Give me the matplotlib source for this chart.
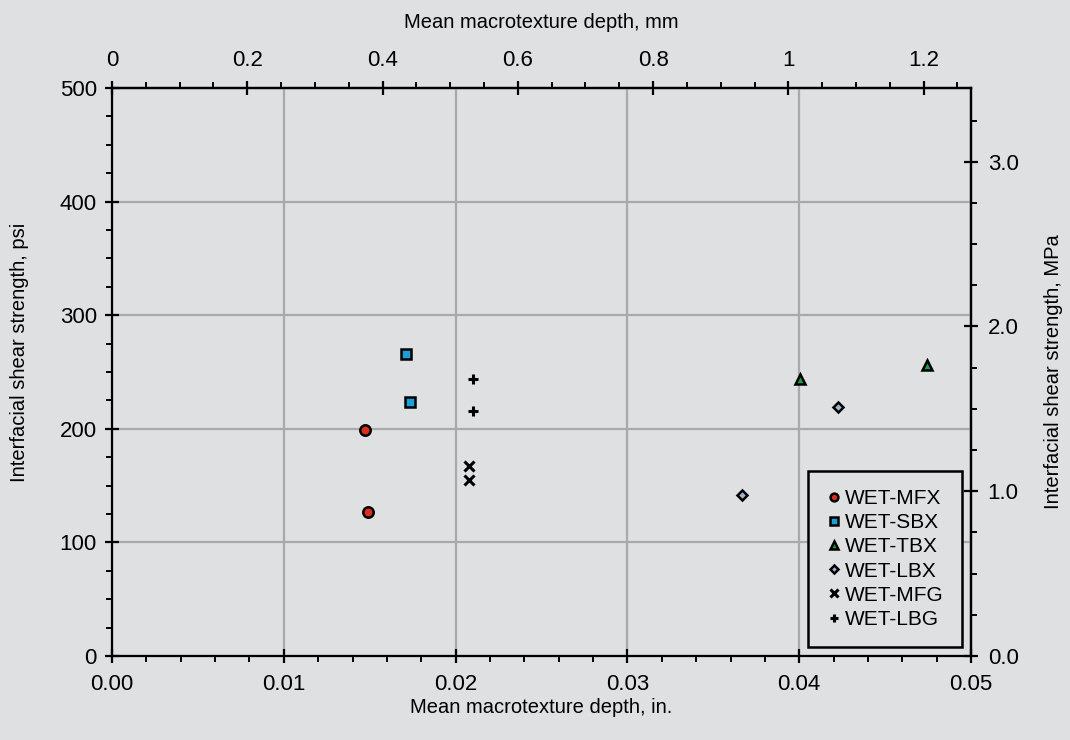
import matplotlib
matplotlib.use("Agg")
import matplotlib.pyplot as plt
from matplotlib.ticker import MultipleLocator, FormatStrFormatter, FuncFormatter

plt.rcParams['font.family'] = ['Liberation Sans', 'DejaVu Sans']

# Mean macrotexture depth (in.) and interfacial shear strength (psi) per mix
series = ["WET-MFX", "WET-SBX", "WET-TBX", "WET-LBX", "WET-MFG", "WET-LBG"]
mfx_depth = [0.01475, 0.01490]
mfx_shear = [199, 127]
sbx_depth = [0.01711, 0.01735]
sbx_shear = [266, 224]
tbx_depth = [0.04005, 0.04742]
tbx_shear = [244, 256]
lbx_depth = [0.03667, 0.04224]
lbx_shear = [142, 219]
mfg_depth = [0.02080, 0.02080]
mfg_shear = [167, 155]
lbg_depth = [0.02103, 0.02101]
lbg_shear = [244, 216]

IN_TO_MM = 25.4
PSI_TO_MPA = 0.00689476

bg = "#dfe0e2"
fig = plt.figure(figsize=(10.7, 7.4), dpi=100, facecolor=bg)
ax = fig.add_axes([0.1047, 0.1135, 0.8028, 0.7676], facecolor=bg)

ms = 7.5
mew = 1.8
ax.plot(mfx_depth, mfx_shear, 'o', ms=ms, mfc="#d9301e", mec="black", mew=mew, label=series[0], zorder=5)
ax.plot(sbx_depth, sbx_shear, 's', ms=ms, mfc="#1a9fd6", mec="black", mew=mew, label=series[1], zorder=5)
ax.plot(tbx_depth, tbx_shear, '^', ms=ms, mfc="#1f9a48", mec="black", mew=mew, label=series[2], zorder=5)
ax.plot(lbx_depth, lbx_shear, 'D', ms=5.5, mfc="#9fb3d3", mec="black", mew=mew, label=series[3], zorder=5)
ax.plot(mfg_depth, mfg_shear, 'x', ms=7, mec="black", mew=2.2, label=series[4], zorder=5)
ax.plot(lbg_depth, lbg_shear, '+', ms=7, mec="black", mew=2.2, label=series[5], zorder=5)

ax.set_xlim(0, 0.05)
ax.set_ylim(0, 500)
ax.xaxis.set_major_locator(MultipleLocator(0.01))
ax.xaxis.set_minor_locator(MultipleLocator(0.002))
ax.xaxis.set_major_formatter(FormatStrFormatter('%.2f'))
ax.yaxis.set_major_locator(MultipleLocator(100))
ax.yaxis.set_minor_locator(MultipleLocator(25))

ax.grid(True, which='major', color="#a9a9a9", lw=1.6, zorder=0)
ax.set_axisbelow(True)

for s in ax.spines.values():
    s.set_linewidth(1.6)
    s.set_color("black")

tick_font = 16
label_font = 14.5
tick_kw_major = dict(which='major', direction='inout', length=10, width=1.6, labelsize=tick_font, colors='black')
tick_kw_minor = dict(which='minor', direction='out', length=4, width=1.4)
ax.tick_params(axis='x', pad=8, **tick_kw_major)
ax.tick_params(axis='y', pad=6, **tick_kw_major)
ax.tick_params(axis='both', **tick_kw_minor)

ax.set_xlabel("Mean macrotexture depth, in.", fontsize=label_font, labelpad=2)
ax.set_ylabel("Interfacial shear strength, psi", fontsize=label_font)
ax.yaxis.set_label_coords(-0.097, 0.535)

# Metric axes
top = ax.secondary_xaxis('top', functions=(lambda x: x * IN_TO_MM, lambda x: x / IN_TO_MM))
top.xaxis.set_major_locator(MultipleLocator(0.2))
top.xaxis.set_minor_locator(MultipleLocator(0.05))
top.xaxis.set_major_formatter(FuncFormatter(lambda v, p: "0" if abs(v) < 1e-9 else f"{v:.1f}".rstrip('0').rstrip('.')))
top.tick_params(axis='x', pad=7, **tick_kw_major)
top.tick_params(axis='x', **tick_kw_minor)
top.set_xlabel("Mean macrotexture depth, mm", fontsize=label_font, labelpad=16)
top.spines['top'].set_linewidth(1.6)

right = ax.secondary_yaxis('right', functions=(lambda y: y * PSI_TO_MPA, lambda y: y / PSI_TO_MPA))
right.yaxis.set_major_locator(MultipleLocator(1.0))
right.yaxis.set_minor_locator(MultipleLocator(0.25))
right.yaxis.set_major_formatter(FormatStrFormatter('%.1f'))
right.tick_params(axis='y', pad=7, **tick_kw_major)
right.tick_params(axis='y', **tick_kw_minor)
right.set_ylabel("Interfacial shear strength, MPa", fontsize=label_font, labelpad=18)
right.spines['right'].set_linewidth(1.6)

leg = ax.legend(loc='lower right', bbox_to_anchor=(1.0, 0.0), borderaxespad=0.45,
                fontsize=15, frameon=True, fancybox=False, edgecolor='black',
                facecolor=bg, framealpha=1, handlelength=0.8, handletextpad=0.15,
                borderpad=0.85, labelspacing=0.25, markerscale=0.75)
leg.get_frame().set_linewidth(1.8)

fig.savefig("out.png", dpi=100, facecolor=bg)
